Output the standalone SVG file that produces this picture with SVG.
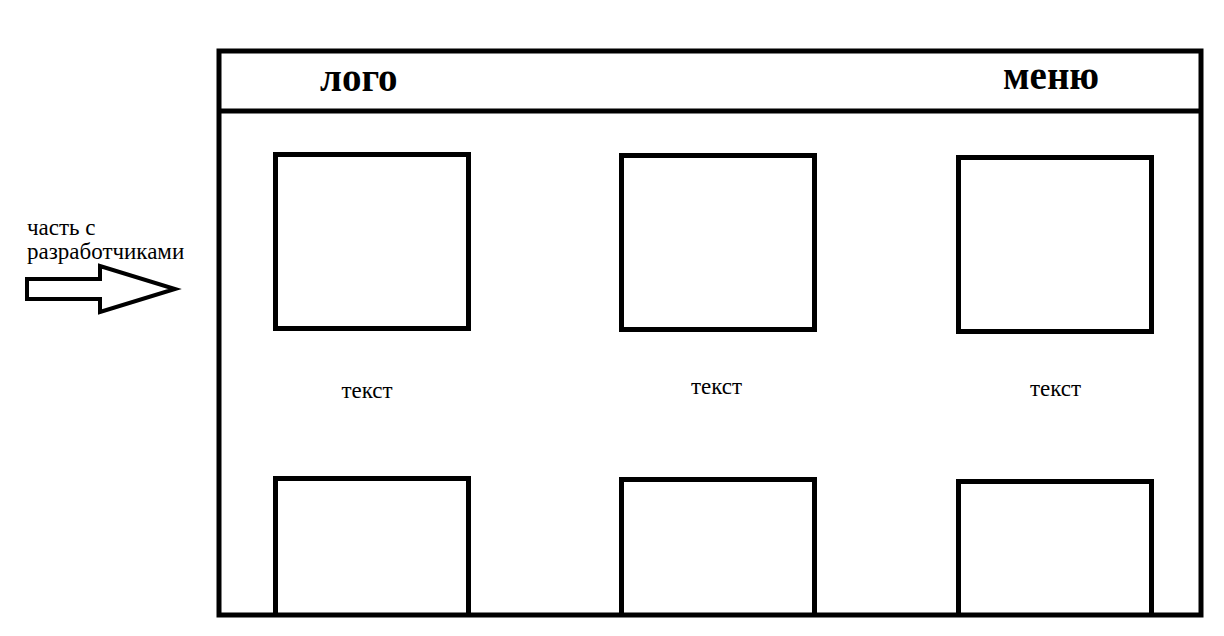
<svg xmlns="http://www.w3.org/2000/svg" width="1224" height="636" viewBox="0 0 1224 636">
<style>
.frame{fill:none;stroke:#000;stroke-width:5}
.box{fill:none;stroke:#000;stroke-width:5}
.title{font-family:"Liberation Serif","Times New Roman",serif;font-weight:bold;font-size:39px;fill:#000}
.lbl{font-family:"Liberation Serif","Times New Roman",serif;font-size:23px;fill:#000}
</style>
<rect width="1224" height="636" fill="#fff"/>
<g id="page">
<rect class="frame" x="219" y="51" width="982" height="564"/>
<line class="frame" x1="219" y1="111" x2="1201" y2="111"/>
</g>
<g id="logo"><text class="title" x="320" y="91">лого</text></g>
<g id="menu"><text class="title" x="1003" y="89">меню</text></g>
<g id="card1"><rect class="box" x="275.5" y="154.5" width="193" height="174"/><text class="lbl" x="367" y="398" text-anchor="middle">текст</text></g>
<g id="card2"><rect class="box" x="621.5" y="155.5" width="193" height="174"/><text class="lbl" x="716.5" y="394" text-anchor="middle">текст</text></g>
<g id="card3"><rect class="box" x="958.5" y="157.5" width="193" height="174"/><text class="lbl" x="1055.5" y="396" text-anchor="middle">текст</text></g>
<g id="card4"><path class="box" d="M275.5,615 V478.5 H468.5 V615"/></g>
<g id="card5"><path class="box" d="M621.5,615 V479.5 H814.5 V615"/></g>
<g id="card6"><path class="box" d="M958.5,615 V481.5 H1151.5 V615"/></g>
<g id="dev">
<text class="lbl" x="27" y="235">часть с</text>
<text class="lbl" x="27" y="259">разработчиками</text>
</g>
<g id="connectors">
<polygon points="27,279 100,279 100,266 175,289 100,312 100,299 27,299" fill="#fff" stroke="#000" stroke-width="4"/>
</g>
</svg>
